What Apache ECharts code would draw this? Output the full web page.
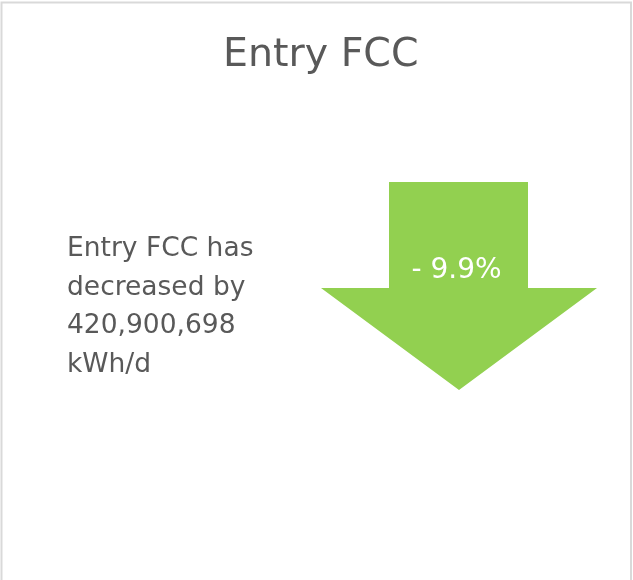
<!DOCTYPE html>
<html>
<head>
<meta charset="utf-8">
<script src="https://cdn.jsdelivr.net/npm/echarts@6/dist/echarts.min.js"></script>
<style>
  html, body { margin: 0; padding: 0; background: #fff; }
  #chart { width: 633px; height: 580px; }
</style>
</head>
<body>
<div id="chart"></div>
<script>
// data
const measures = ['Entry FCC']
const pctChange = [-9.9]
const absChange = [-420900698]
const unit = 'kWh/d'

const fmt = n => Math.abs(n).toLocaleString('en-US')
const pctLabel = v => (v < 0 ? '- ' : '+ ') + Math.abs(v).toFixed(1) + '%'

const desc = measures[0] + ' has\n' + (absChange[0] < 0 ? 'decreased' : 'increased') +
  ' by\n' + fmt(absChange[0]) + '\n' + unit

// arrow shape, pointing down
const arrowDown = 'path://M68,0 L207,0 L207,106 L276,106 L138,208 L0,106 L68,106 Z'

const myChart = echarts.init(document.getElementById('chart'))
myChart.setOption({
  animation: false,
  title: {
    text: measures[0],
    left: 223,
    top: 36,
    padding: 0,
    textStyle: {
      fontFamily: 'DejaVu Sans',
      fontSize: 39.5,
      fontWeight: 'normal',
      color: '#595959'
    }
  },
  graphic: [
    {
      type: 'rect',
      shape: { x: 1.5, y: 2.5, width: 629.5, height: 620 },
      style: { fill: 'none', stroke: '#d9d9d9', lineWidth: 2 },
      silent: true
    },
    {
      type: 'text',
      left: 67,
      top: 230,
      style: {
        text: desc,
        fontFamily: 'DejaVu Sans',
        fontSize: 26.5,
        lineHeight: 38.5,
        fill: '#595959'
      }
    }
  ],
  grid: { left: 321, top: 182, width: 276, height: 208 },
  xAxis: { type: 'category', data: measures, show: false },
  yAxis: { type: 'value', show: false, min: pctChange[0] - 1, max: pctChange[0] + 1 },
  series: [
    {
      type: 'scatter',
      data: pctChange,
      symbol: arrowDown,
      symbolSize: [276, 208],
      itemStyle: { color: '#92d050', opacity: 1 },
      label: {
        show: true,
        position: 'inside',
        offset: [-2.5, -15],
        formatter: p => pctLabel(p.value),
        fontFamily: 'DejaVu Sans',
        fontSize: 28,
        color: '#fff'
      }
    }
  ]
})
</script>
</body>
</html>
